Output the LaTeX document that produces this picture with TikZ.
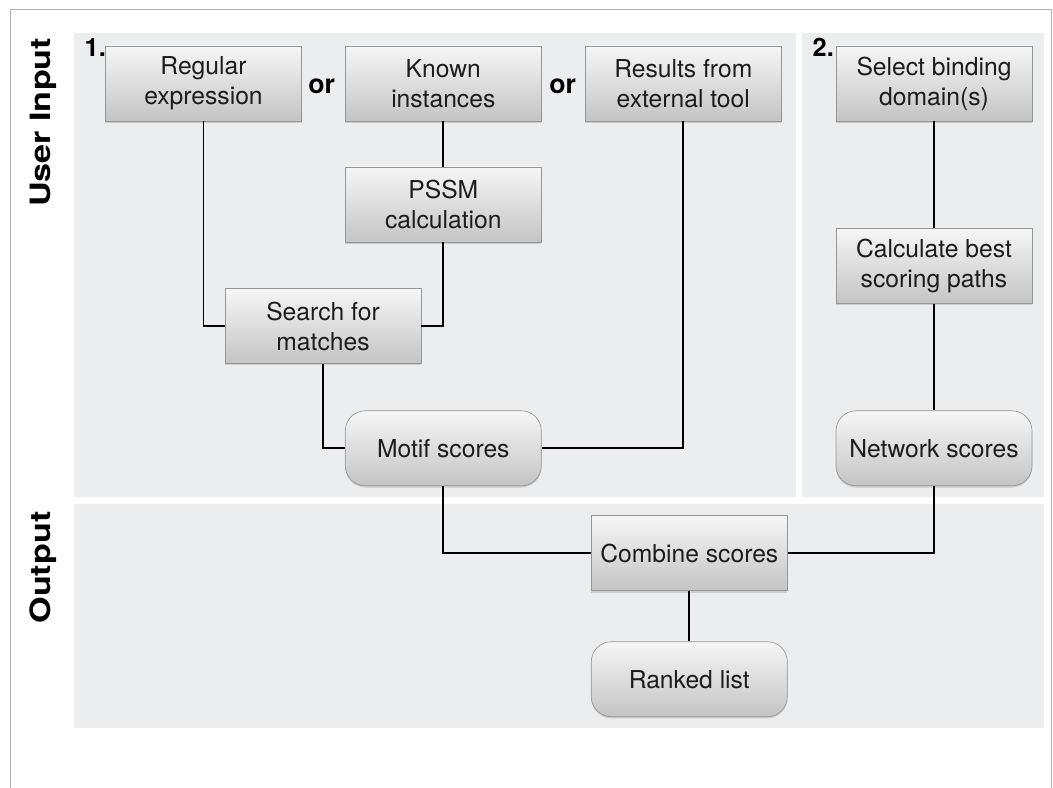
\documentclass[tikz,border=0pt]{standalone}
\usepackage{fontspec}
\setmainfont{TeX Gyre Heros}
\usetikzlibrary{shadows}
\definecolor{panelbg}{RGB}{236,237,239}
\definecolor{boxtop}{RGB}{246,246,246}
\definecolor{boxbot}{RGB}{196,196,196}
\definecolor{boxline}{RGB}{150,150,150}
\definecolor{framegray}{RGB}{178,178,178}
\definecolor{txt}{RGB}{28,28,28}
\begin{document}
\begin{tikzpicture}[x=0.75pt,y=-0.75pt,
  proc/.style={draw=boxline, line width=0.5pt, top color=boxtop, bottom color=boxbot,
    minimum width=147pt, minimum height=56.25pt, inner sep=0pt, align=center,
    font=\fontsize{18.5}{22.5}\selectfont, text=txt,
    drop shadow={shadow xshift=0pt, shadow yshift=-1.3pt, opacity=0.3}},
  term/.style={proc, rounded corners=15pt},
  link/.style={line width=1.4pt, black},
  side/.style={rotate=90, anchor=base, font=\bfseries\fontsize{21}{21}\selectfont},
  num/.style={anchor=base west, font=\bfseries\fontsize{19}{19}\selectfont},
  ortext/.style={anchor=base, font=\bfseries\fontsize{20}{20}\selectfont}]
\useasboundingbox (0,0) rectangle (1053,788);
\fill[white] (0,0) rectangle (1053,788);
\draw[framegray, line width=0.75pt] (10,800) -- (10,10) -- (1051.7,10) -- (1051.7,800);
% panels
\fill[panelbg] (74,33) rectangle (796,497);
\fill[panelbg] (802,33) rectangle (1044,497);
\fill[panelbg] (74,504) rectangle (1044,728);
% side labels
\node[side] (lui) at (50,122.4) {\scalebox{1.22}[1]{User Input}};
\node[side] (lout) at (50,567.5) {\scalebox{1.22}[1]{Output}};
\node[num] (n1) at (80,57) {1.};
\node[num] (n2) at (808,57) {2.};
\node[ortext] (or1) at (321.7,93.3) {or};
\node[ortext] (or2) at (562.7,93.3) {or};
% nodes
\node[proc] (regex) at (203.5,83.5) {Regular\\expression};
\node[proc] (known) at (443.3,83.5) {Known\\instances};
\node[proc] (results) at (683.3,83.5) {Results from\\external tool};
\node[proc] (pssm) at (443.3,204.5) {PSSM\\calculation};
\node[proc] (search) at (323,326.2) {Search for\\matches};
\node[term] (motif) at (443.3,448.3) {Motif scores};
\node[proc] (select) at (934,83.5) {Select binding\\domain(s)};
\node[proc] (calc) at (934,265.8) {Calculate best\\scoring paths};
\node[term] (network) at (934,448.3) {Network scores};
\node[proc] (combine) at (689.3,553.3) {Combine scores};
\node[term] (ranked) at (689.3,679.2) {Ranked list};
% connectors
\draw[link] (regex.south) |- (search.west);
\draw[link] (known.south) -- (pssm.north);
\draw[link] (pssm.south) |- (search.east);
\draw[link] (search.south) |- (motif.west);
\draw[link] (results.south) |- (motif.east);
\draw[link] (select.south) -- (calc.north);
\draw[link] (calc.south) -- (network.north);
\draw[link] (motif.south) |- (combine.west);
\draw[link] (network.south) |- (combine.east);
\draw[link] (combine.south) -- (ranked.north);
\end{tikzpicture}
\end{document}
